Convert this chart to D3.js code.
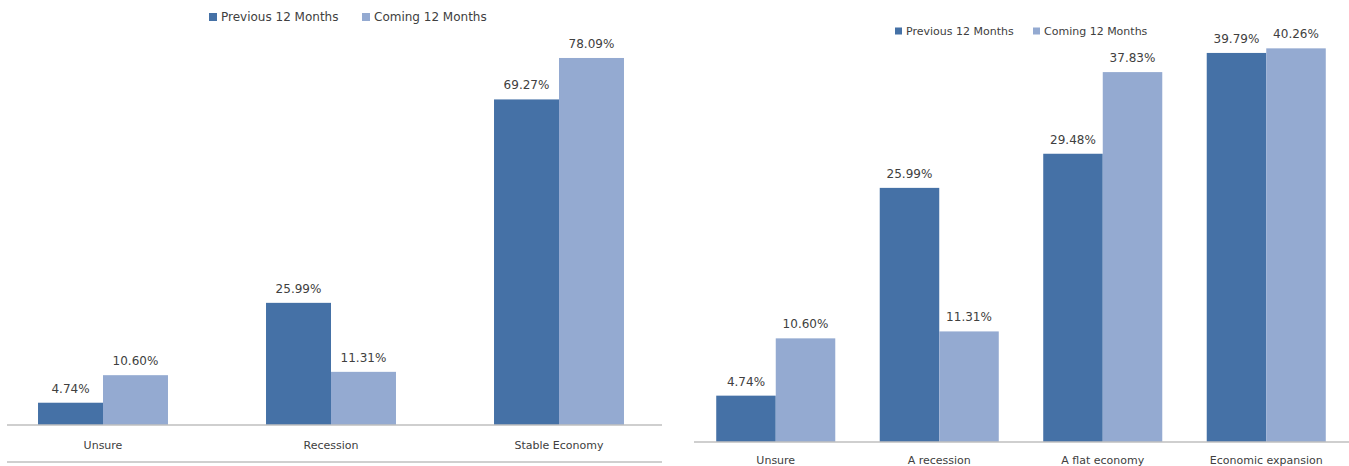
<!DOCTYPE html>
<html>
<head>
<meta charset="utf-8">
<script src="https://cdn.jsdelivr.net/npm/d3@7"></script>
<style>
  body { margin: 0; background: #fff; }
  svg text { font-family: "DejaVu Sans", Verdana, sans-serif; fill: #404040; }
</style>
</head>
<body>
<div id="chart"></div>
<script>
// data
var seriesNames = ["Previous 12 Months", "Coming 12 Months"];
var leftCategories = ["Unsure", "Recession", "Stable Economy"];
var leftPrevious = [4.74, 25.99, 69.27];
var leftComing = [10.60, 11.31, 78.09];
var rightCategories = ["Unsure", "A recession", "A flat economy", "Economic expansion"];
var rightPrevious = [4.74, 25.99, 29.48, 39.79];
var rightComing = [10.60, 11.31, 37.83, 40.26];

var colors = ["#4571A6", "#94AAD1"];

var svgWidth = 1349;
var svgHeight = 466;

var svg = d3.select("#chart")
            .append("svg")
            .attr("width", svgWidth)
            .attr("height", svgHeight);

function drawChart(opts) {
    var rows = opts.categories.map(function(c, i) {
        return {category: c, values: [opts.previous[i], opts.coming[i]]};
    });

    var x0 = d3.scaleBand()
               .domain(opts.categories)
               .range(opts.xRange)
               .paddingInner(opts.padding)
               .paddingOuter(opts.padding / 2);

    var x1 = d3.scaleBand()
               .domain([0, 1])
               .range([0, x0.bandwidth()]);

    var y = d3.scaleLinear()
              .domain([0, opts.yMax])
              .range([opts.baseline, opts.top]);

    var g = svg.append("g");

    var groups = g.selectAll(".cat")
                  .data(rows)
                  .enter()
                  .append("g")
                  .attr("transform", d => `translate(${x0(d.category)},0)`);

    groups.selectAll("rect")
          .data(d => d.values)
          .enter()
          .append("rect")
          .attr("x", (d, i) => x1(i))
          .attr("y", d => y(d))
          .attr("width", x1.bandwidth())
          .attr("height", d => opts.baseline - y(d))
          .attr("fill", (d, i) => colors[i]);

    groups.selectAll("text.val")
          .data(d => d.values)
          .enter()
          .append("text")
          .attr("class", "val")
          .attr("x", (d, i) => x1(i) + x1.bandwidth() / 2)
          .attr("y", d => y(d) - 10)
          .attr("text-anchor", "middle")
          .style("font-size", "12px")
          .text(d => d.toFixed(2) + "%");

    // category axis
    var axis = d3.axisBottom(x0).tickSize(0).tickPadding(opts.labelPad);
    var ag = g.append("g")
              .attr("transform", `translate(0,${opts.baseline})`)
              .call(axis);
    ag.select(".domain").remove();
    ag.selectAll("text")
      .style("font-size", "11px")
      .attr("fill", "#404040");

    g.append("line")
     .attr("x1", opts.lineX[0]).attr("x2", opts.lineX[1])
     .attr("y1", opts.baseline).attr("y2", opts.baseline)
     .attr("stroke", "#BFBFBF")
     .attr("stroke-width", 1.5);

    if (opts.bottomLine) {
        g.append("line")
         .attr("x1", opts.lineX[0]).attr("x2", opts.lineX[1])
         .attr("y1", opts.bottomLine).attr("y2", opts.bottomLine)
         .attr("stroke", "#BFBFBF")
         .attr("stroke-width", 1.5);
    }

    // legend
    var lg = g.append("g");
    seriesNames.forEach(function(name, i) {
        var lx = opts.legendX[i];
        lg.append("rect")
          .attr("x", lx)
          .attr("y", opts.legendY - opts.legendBox / 2)
          .attr("width", opts.legendBox)
          .attr("height", opts.legendBox)
          .attr("fill", colors[i]);
        lg.append("text")
          .attr("x", lx + opts.legendBox + 4)
          .attr("y", opts.legendY)
          .attr("dy", "0.35em")
          .style("font-size", opts.legendFont)
          .text(name);
    });
}

drawChart({
    categories: leftCategories,
    previous: leftPrevious,
    coming: leftComing,
    xRange: [-11, 673],
    padding: 0.43,
    yMax: 90,
    baseline: 425,
    top: 2,
    labelPad: 16,
    lineX: [7, 662],
    bottomLine: 462,
    legendX: [209, 362],
    legendY: 17,
    legendBox: 8,
    legendFont: "12px"
});

drawChart({
    categories: rightCategories,
    previous: rightPrevious,
    coming: rightComing,
    xRange: [694, 1348],
    padding: 0.272,
    yMax: 45,
    baseline: 442,
    top: 2,
    labelPad: 14,
    lineX: [694, 1349],
    bottomLine: null,
    legendX: [895, 1033],
    legendY: 31,
    legendBox: 7,
    legendFont: "11px"
});
</script>
</body>
</html>
